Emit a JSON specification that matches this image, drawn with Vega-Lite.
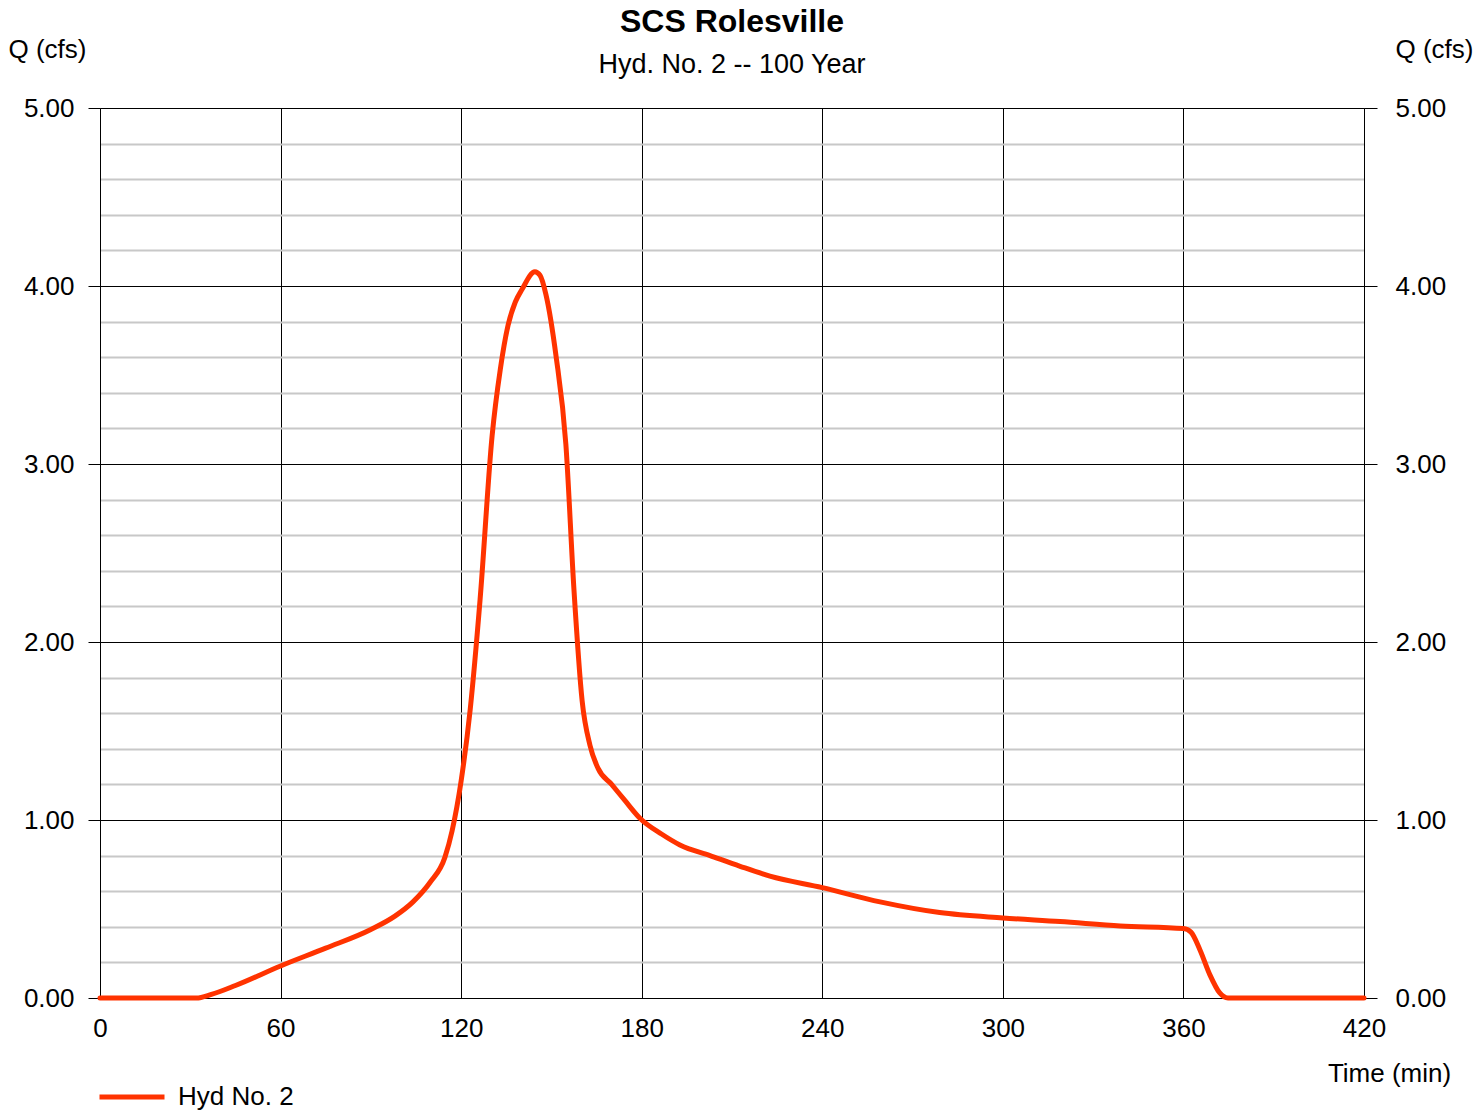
{
  "$schema": "https://vega.github.io/schema/vega-lite/v6.json",
  "autosize": {"type": "none"},
  "width": 1264,
  "height": 890,
  "padding": {"left": 100, "top": 108, "right": 109, "bottom": 116},
  "background": "white",
  "config": {
    "font": "Liberation Sans",
    "view": {"stroke": null},
    "axis": {"labelFont": "Liberation Sans", "titleFont": "Liberation Sans", "labelFontSize": 26, "titleFontSize": 26, "labelColor": "black", "titleColor": "black", "titleFontWeight": "normal"}
  },
  "title": {
    "text": "SCS Rolesville",
    "subtitle": "Hyd. No. 2 -- 100 Year",
    "anchor": "middle",
    "frame": "group",
    "fontSize": 32,
    "fontWeight": "bold",
    "color": "black",
    "subtitleFontSize": 27,
    "subtitleColor": "black",
    "subtitlePadding": 13,
    "offset": -43
  },
  "data": {
    "values": [
      {"t": 0, "q": 0, "s": "Hyd No. 2"},
      {"t": 32, "q": 0, "s": "Hyd No. 2"},
      {"t": 37, "q": 0.02, "s": "Hyd No. 2"},
      {"t": 45, "q": 0.07, "s": "Hyd No. 2"},
      {"t": 60, "q": 0.18, "s": "Hyd No. 2"},
      {"t": 75, "q": 0.28, "s": "Hyd No. 2"},
      {"t": 90, "q": 0.385, "s": "Hyd No. 2"},
      {"t": 98, "q": 0.46, "s": "Hyd No. 2"},
      {"t": 104, "q": 0.54, "s": "Hyd No. 2"},
      {"t": 109.7, "q": 0.65, "s": "Hyd No. 2"},
      {"t": 114.6, "q": 0.79, "s": "Hyd No. 2"},
      {"t": 117, "q": 0.94, "s": "Hyd No. 2"},
      {"t": 120, "q": 1.22, "s": "Hyd No. 2"},
      {"t": 123, "q": 1.62, "s": "Hyd No. 2"},
      {"t": 126.3, "q": 2.24, "s": "Hyd No. 2"},
      {"t": 130.3, "q": 3.16, "s": "Hyd No. 2"},
      {"t": 133, "q": 3.53, "s": "Hyd No. 2"},
      {"t": 135.6, "q": 3.78, "s": "Hyd No. 2"},
      {"t": 138, "q": 3.91, "s": "Hyd No. 2"},
      {"t": 140.2, "q": 3.98, "s": "Hyd No. 2"},
      {"t": 144.5, "q": 4.08, "s": "Hyd No. 2"},
      {"t": 146.2, "q": 4.06, "s": "Hyd No. 2"},
      {"t": 148.2, "q": 3.95, "s": "Hyd No. 2"},
      {"t": 151.5, "q": 3.61, "s": "Hyd No. 2"},
      {"t": 154.8, "q": 3.11, "s": "Hyd No. 2"},
      {"t": 157.5, "q": 2.29, "s": "Hyd No. 2"},
      {"t": 160.2, "q": 1.67, "s": "Hyd No. 2"},
      {"t": 162.8, "q": 1.42, "s": "Hyd No. 2"},
      {"t": 165.5, "q": 1.29, "s": "Hyd No. 2"},
      {"t": 170, "q": 1.2, "s": "Hyd No. 2"},
      {"t": 174.4, "q": 1.11, "s": "Hyd No. 2"},
      {"t": 179.4, "q": 1.01, "s": "Hyd No. 2"},
      {"t": 186.7, "q": 0.92, "s": "Hyd No. 2"},
      {"t": 192.7, "q": 0.86, "s": "Hyd No. 2"},
      {"t": 202.7, "q": 0.8, "s": "Hyd No. 2"},
      {"t": 212.7, "q": 0.74, "s": "Hyd No. 2"},
      {"t": 222.6, "q": 0.685, "s": "Hyd No. 2"},
      {"t": 240, "q": 0.62, "s": "Hyd No. 2"},
      {"t": 259.2, "q": 0.54, "s": "Hyd No. 2"},
      {"t": 279, "q": 0.48, "s": "Hyd No. 2"},
      {"t": 300, "q": 0.45, "s": "Hyd No. 2"},
      {"t": 319, "q": 0.43, "s": "Hyd No. 2"},
      {"t": 339, "q": 0.405, "s": "Hyd No. 2"},
      {"t": 360, "q": 0.39, "s": "Hyd No. 2"},
      {"t": 362.5, "q": 0.37, "s": "Hyd No. 2"},
      {"t": 365.5, "q": 0.27, "s": "Hyd No. 2"},
      {"t": 368.8, "q": 0.13, "s": "Hyd No. 2"},
      {"t": 372, "q": 0.03, "s": "Hyd No. 2"},
      {"t": 374.8, "q": 0, "s": "Hyd No. 2"},
      {"t": 420, "q": 0, "s": "Hyd No. 2"}
    ]
  },
  "layer": [
    {
      "mark": {"type": "line", "strokeWidth": 5, "interpolate": "monotone", "strokeCap": "round", "strokeJoin": "round"},
      "encoding": {
        "x": {
          "field": "t", "type": "quantitative",
          "scale": {"domain": [0, 420], "nice": false, "zero": false},
          "axis": {
            "values": [0, 60, 120, 180, 240, 300, 360, 420],
            "title": "Time (min)",
            "grid": true, "gridColor": "black", "gridWidth": 1, "gridOpacity": 1,
            "domain": true, "domainColor": "black", "domainWidth": 1,
            "ticks": false, "labelPadding": 17,
            "labelFlush": false,
            "titleX": 1289, "titleY": 75, "titleAlign": "center", "titleBaseline": "middle"
          }
        },
        "y": {
          "field": "q", "type": "quantitative",
          "scale": {"domain": [0, 5], "nice": false, "zero": true},
          "axis": {
            "values": [0, 0.2, 0.4, 0.6, 0.8, 1, 1.2, 1.4, 1.6, 1.8, 2, 2.2, 2.4, 2.6, 2.8, 3, 3.2, 3.4, 3.6, 3.8, 4, 4.2, 4.4, 4.6, 4.8, 5],
            "title": "Q (cfs)",
            "grid": true,
            "gridColor": {"condition": {"test": "datum.value % 1 === 0", "value": "black"}, "value": "#c8c8c8"},
            "gridWidth": {"condition": {"test": "datum.value % 1 === 0", "value": 1}, "value": 2},
            "gridOpacity": 1,
            "tickColor": {"condition": {"test": "datum.value % 1 === 0", "value": "black"}, "value": "transparent"},
            "tickSize": 12,
            "labelExpr": "datum.value % 1 === 0 ? format(datum.value, '.2f') : ''",
            "labelPadding": 14,
            "labelFlush": false,
            "domain": true, "domainColor": "black",
            "titleAngle": 0, "titleAlign": "left", "titleBaseline": "middle",
            "titleX": -92, "titleY": -59
          }
        },
        "color": {
          "field": "s", "type": "nominal",
          "scale": {"range": ["#ff3300"]},
          "legend": {
            "title": null, "orient": "none", "legendX": -3, "legendY": 954,
            "symbolType": "stroke", "symbolSize": 4225, "symbolStrokeWidth": 5,
            "labelFontSize": 26, "labelFont": "Liberation Sans", "labelColor": "black",
            "labelOffset": 11
          }
        }
      }
    },
    {
      "mark": {"type": "line", "opacity": 0},
      "encoding": {
        "x": {"field": "t", "type": "quantitative", "scale": {"domain": [0, 420], "nice": false}},
        "y": {
          "field": "q", "type": "quantitative",
          "scale": {"domain": [0, 5], "nice": false},
          "axis": {
            "orient": "right",
            "values": [0, 1, 2, 3, 4, 5],
            "format": ".2f",
            "title": "Q (cfs)",
            "grid": false,
            "tickColor": "black", "tickSize": 13, "labelPadding": 18,
            "labelFlush": false,
            "domain": true, "domainColor": "black",
            "titleAngle": 0, "titleAlign": "left", "titleBaseline": "middle",
            "titleX": 31, "titleY": -59
          }
        }
      }
    }
  ],
  "resolve": {"axis": {"y": "independent"}}
}
